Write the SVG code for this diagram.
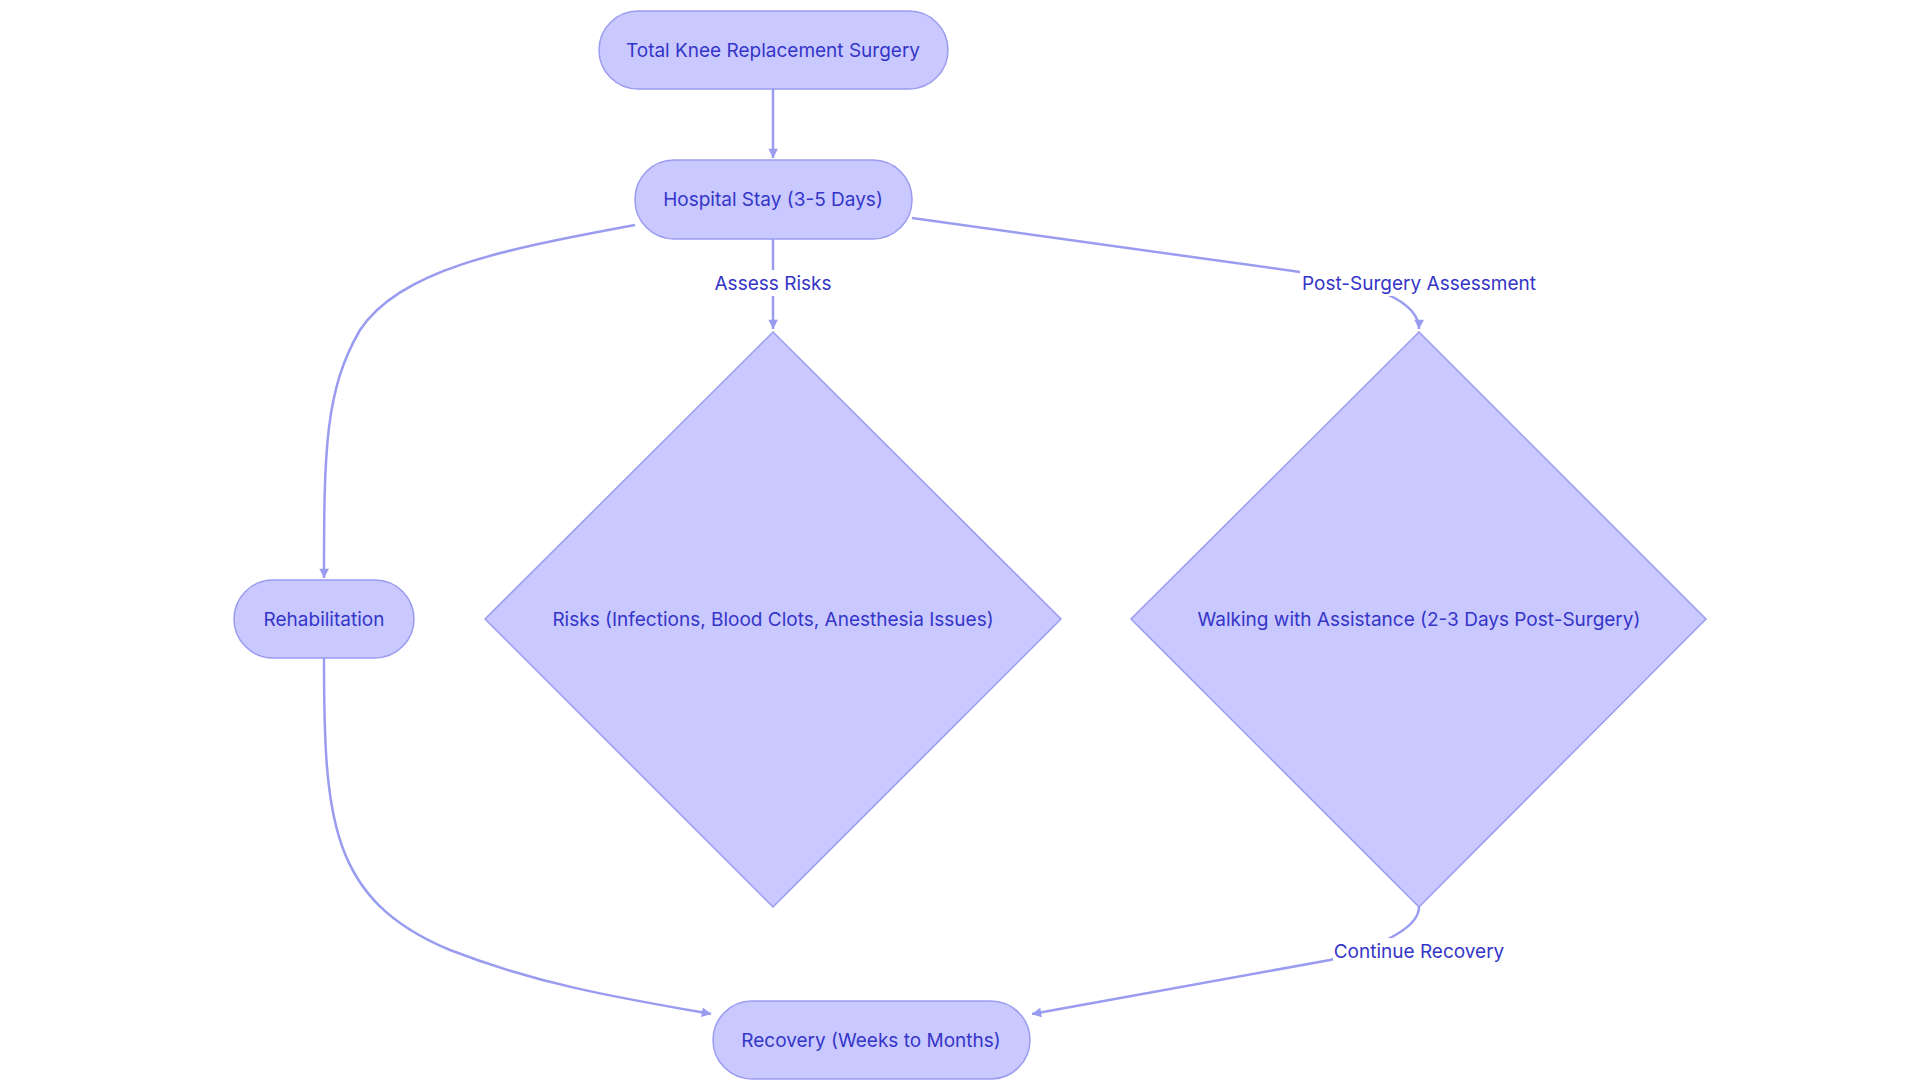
<svg xmlns="http://www.w3.org/2000/svg" width="1920" height="1083" viewBox="0 0 1920 1083">
<style>
.n{fill:#c9c9ff;stroke:#9a9cf0;stroke-width:1.5}
.t{font-family:Inter,"Liberation Sans",sans-serif;font-size:19px;fill:#3535c8;text-anchor:middle;dominant-baseline:central}
.e{fill:none;stroke:#9a9cf0;stroke-width:2.5}
.lb{fill:#ffffff}
</style>
<defs><marker id="a" viewBox="0 0 10 10" refX="9" refY="5" markerWidth="6" markerHeight="6" orient="auto" markerUnits="userSpaceOnUse" style="overflow:visible"><path d="M0,0 L10,5 L0,10 z" fill="#9a9cf0" transform="scale(1.6) translate(-4,-2)"/></marker></defs>
<rect width="1920" height="1083" fill="#fff"/>
<g id="edges">
<path class="e" d="M773,89 L773,158" marker-end="url(#a)"/>
<path class="e" d="M635,225 C500,250 400,270 360,330 C325,390 324,450 324,578" marker-end="url(#a)"/>
<path class="e" d="M773,239 L773,329" marker-end="url(#a)"/>
<path class="e" d="M912,218 L1300,272 Q1419,290 1419,329" marker-end="url(#a)"/>
<path class="e" d="M324,658 C324,820 330,900 450,950 C540,985 620,998 711,1014" marker-end="url(#a)"/>
<path class="e" d="M1419,907 Q1419,935 1330,960 L1032,1014" marker-end="url(#a)"/>
<rect class="lb" x="713" y="270" width="120" height="26"/>
<text class="t" x="773" y="283">Assess Risks</text>
<rect class="lb" x="1300" y="270" width="238" height="26"/>
<text class="t" x="1419" y="283">Post-Surgery Assessment</text>
<rect class="lb" x="1333" y="938" width="172" height="26"/>
<text class="t" x="1419" y="951">Continue Recovery</text>
</g>
<g id="n1"><rect class="n" x="599" y="11" width="349" height="78" rx="39"/><text class="t" x="773" y="50">Total Knee Replacement Surgery</text></g>
<g id="n2"><rect class="n" x="635" y="160" width="277" height="79" rx="39"/><text class="t" x="773" y="199">Hospital Stay (3-5 Days)</text></g>
<g id="n3"><rect class="n" x="234" y="580" width="180" height="78" rx="39"/><text class="t" x="324" y="619">Rehabilitation</text></g>
<g id="n4"><polygon class="n" points="773,332 1061,619 773,907 485,619"/><text class="t" x="773" y="619">Risks (Infections, Blood Clots, Anesthesia Issues)</text></g>
<g id="n5"><polygon class="n" points="1419,332 1706,619 1419,907 1131,619"/><text class="t" x="1419" y="619">Walking with Assistance (2-3 Days Post-Surgery)</text></g>
<g id="n6"><rect class="n" x="713" y="1001" width="317" height="78" rx="39"/><text class="t" x="871" y="1040">Recovery (Weeks to Months)</text></g>
</svg>
